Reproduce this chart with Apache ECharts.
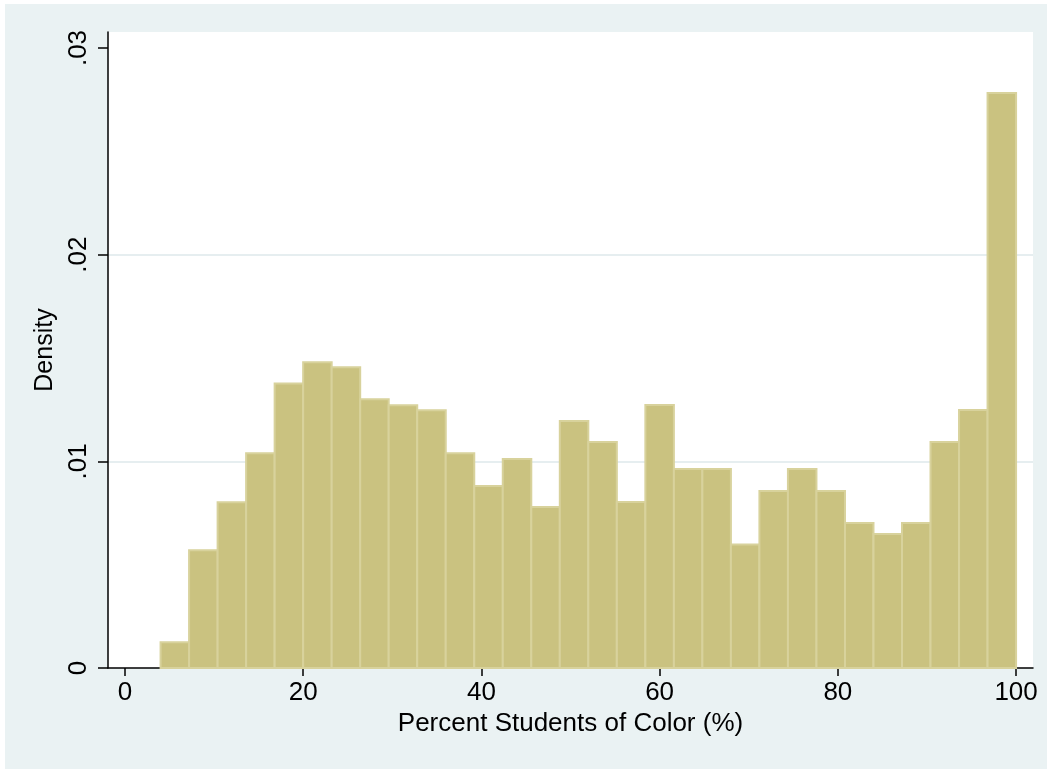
<!DOCTYPE html>
<html>
<head>
<meta charset="utf-8">
<script src="https://cdn.jsdelivr.net/npm/echarts@6/dist/echarts.min.js"></script>
<style>
  html, body { margin: 0; padding: 0; background: #fff; }
  #chart { position: absolute; left: 5px; top: 4px; width: 1042px; height: 765px; background: #EAF2F3; }
</style>
</head>
<body>
<div id="chart"></div>
<script>
// bin edges of the histogram (width 3.2)
const binEdges = [4, 7.2, 10.4, 13.6, 16.8, 20, 23.2, 26.4, 29.6, 32.8, 36, 39.2, 42.4, 45.6, 48.8,
  52, 55.2, 58.4, 61.6, 64.8, 68, 71.2, 74.4, 77.6, 80.8, 84, 87.2, 90.4, 93.6, 96.8, 100];
const density = [0.00124, 0.00570, 0.00802, 0.01039, 0.01377, 0.01479, 0.01455, 0.01300, 0.01271, 0.01247,
  0.01039, 0.00881, 0.01011, 0.00779, 0.01195, 0.01094, 0.00803, 0.01273, 0.00963, 0.00963,
  0.00597, 0.00856, 0.00963, 0.00856, 0.00702, 0.00648, 0.00702, 0.01094, 0.01248, 0.02782];
const xTicks = [0, 20, 40, 60, 80, 100];
const yTicks = [0, 0.01, 0.02, 0.03];

const fontFamily = "'Liberation Sans', Arial, sans-serif";

const bars = density.map((d, i) => [binEdges[i], binEdges[i + 1], d]);

const chart = echarts.init(document.getElementById('chart'));

chart.setOption({
  animation: false,
  backgroundColor: 'transparent',
  grid: {
    left: 103,
    right: 14,
    top: 28,
    bottom: 101,
    show: true,
    backgroundColor: '#fff',
    borderWidth: 0
  },
  xAxis: {
    type: 'value',
    min: -1.9,
    max: 101.9,
    name: 'Percent Students of Color (%)',
    nameLocation: 'middle',
    nameGap: 38,
    nameTextStyle: { fontFamily, fontSize: 26, color: '#000' },
    axisLine: { show: true, onZero: false, lineStyle: { color: '#000', width: 1.5 } },
    axisTick: { show: true, customValues: xTicks, length: 8, lineStyle: { color: '#000', width: 1.5 } },
    axisLabel: { customValues: xTicks, margin: 12, fontFamily, fontSize: 26, color: '#000' },
    splitLine: { show: false }
  },
  yAxis: {
    type: 'value',
    min: 0,
    max: 0.030774,
    interval: 0.01,
    name: 'Density',
    nameLocation: 'middle',
    nameGap: 43,
    nameTextStyle: { fontFamily, fontSize: 25, color: '#000' },
    axisLine: { show: true, onZero: false, lineStyle: { color: '#000', width: 1.5 } },
    axisTick: { show: true, customValues: yTicks, length: 10, lineStyle: { color: '#000', width: 1.5 } },
    axisLabel: {
      customValues: yTicks,
      rotate: 90,
      margin: 16,
      fontFamily,
      fontSize: 26,
      color: '#000',
      formatter: v => (v === 0 ? '0' : String(+v.toFixed(2)).replace(/^0/, ''))
    },
    splitLine: { show: true, showMinLine: false, showMaxLine: false, lineStyle: { color: '#E6EEF0', width: 2 } }
  },
  series: [{
    type: 'custom',
    clip: false,
    data: bars,
    renderItem: (params, api) => {
      const p0 = api.coord([api.value(0), 0]);
      const p1 = api.coord([api.value(1), api.value(2)]);
      return {
        type: 'rect',
        shape: { x: p0[0], y: p1[1], width: p1[0] - p0[0], height: p0[1] - p1[1] },
        style: { fill: '#CAC280', stroke: '#D8D29C', lineWidth: 2 }
      };
    }
  }]
});
</script>
</body>
</html>
